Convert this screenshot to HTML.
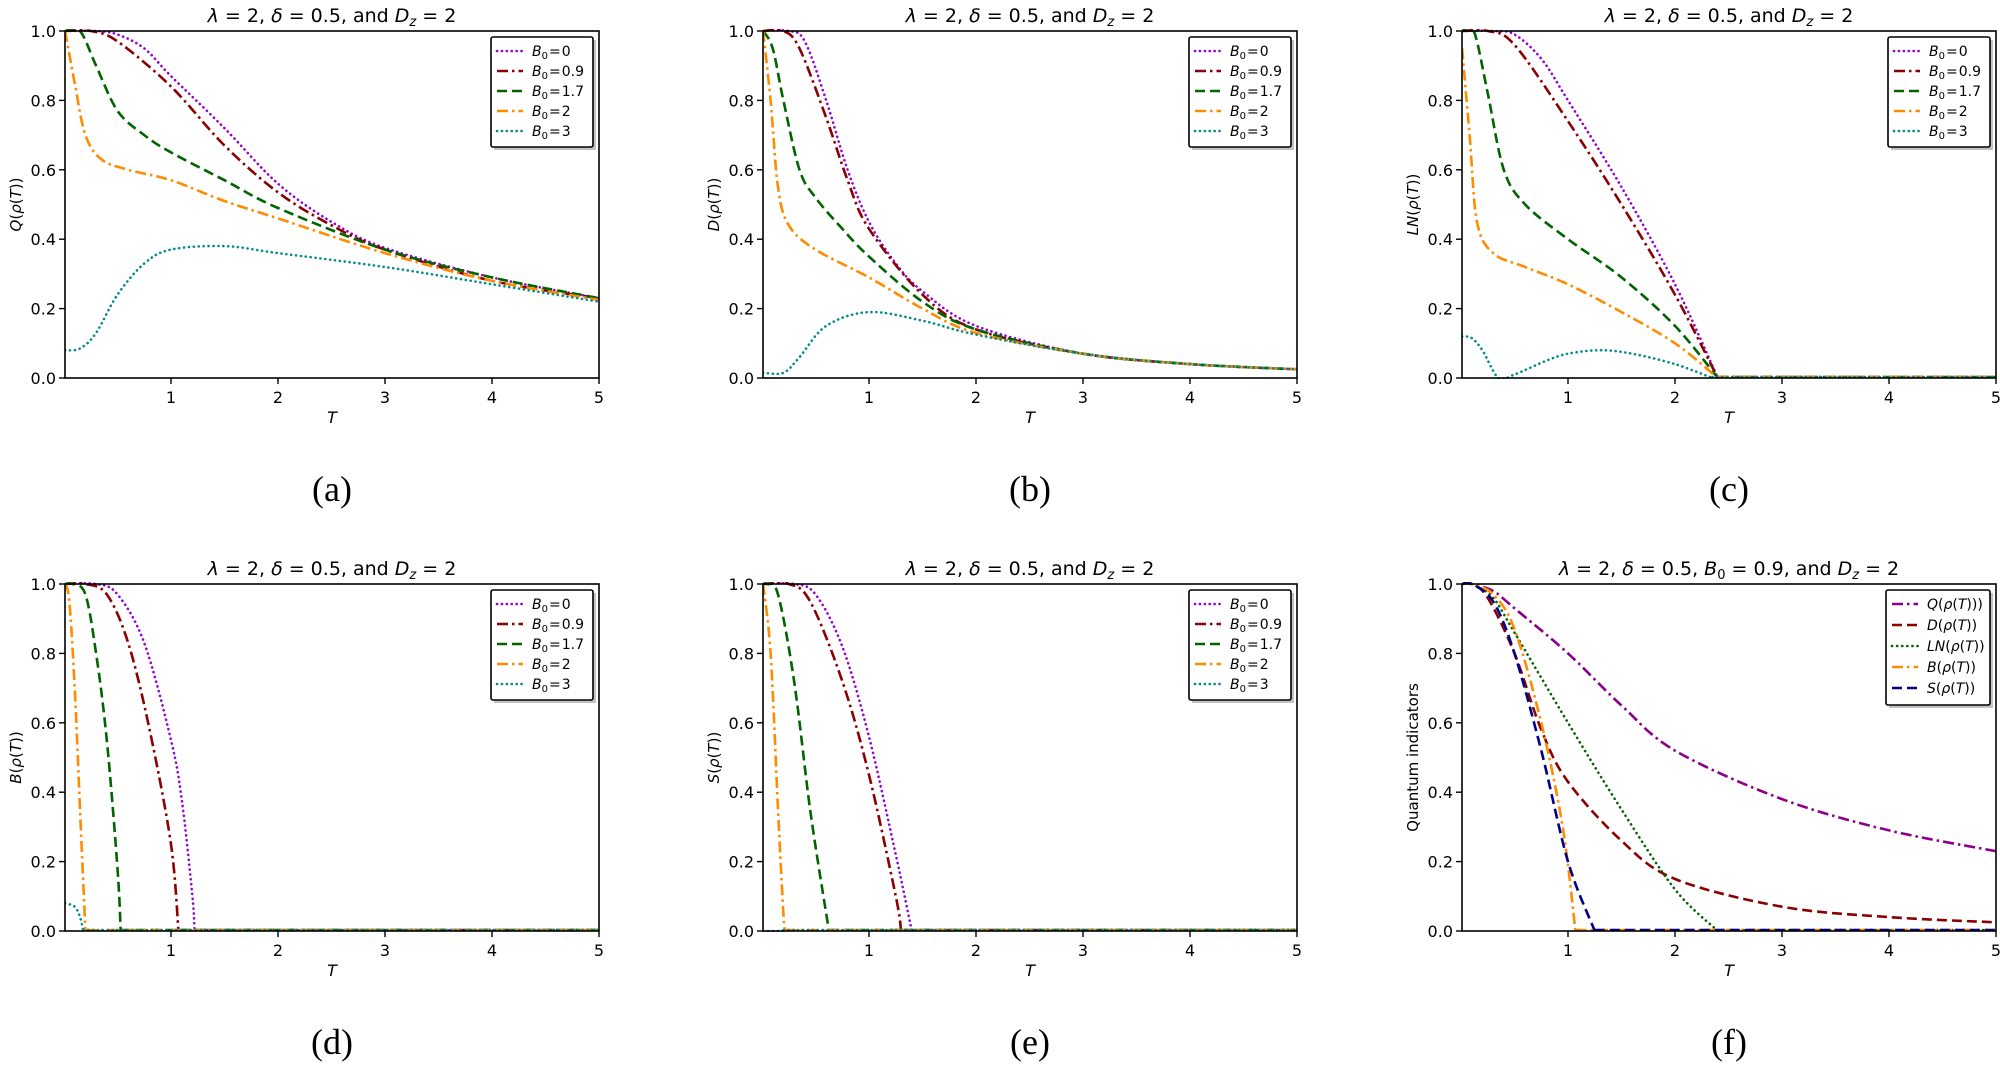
<!DOCTYPE html>
<html><head><meta charset="utf-8"><style>
html,body{margin:0;padding:0;background:#fff;width:2000px;height:1065px;overflow:hidden}
svg text{font-family:"DejaVu Sans","Liberation Sans",sans-serif;fill:#000}
</style></head><body>
<svg id="s" width="2000" height="1065" xmlns="http://www.w3.org/2000/svg"></svg>
<script>
const S=document.getElementById('s');let h='';
const W=534,H=347;
const cols=[65,763,1462],rows=[31,584];
const sty={
 dot:'stroke-dasharray="0.1,4.8" stroke-linecap="round"',
 dashdot:'stroke-dasharray="11,4,2.5,4"',
 dash:'stroke-dasharray="10,5"',
 dot2:'stroke-dasharray="0.1,5" stroke-linecap="round"'
};
function path(pts,X,Y){
 if(pts.length<2)return'';
 let P=pts.map(p=>[X(p[0]),Y(p[1])]);
 let d='M'+P[0][0].toFixed(1)+','+P[0][1].toFixed(1);
 for(let i=0;i<P.length-1;i++){
  const p0=P[Math.max(0,i-1)],p1=P[i],p2=P[i+1],p3=P[Math.min(P.length-1,i+2)];
  const c1=[p1[0]+(p2[0]-p0[0])/6,p1[1]+(p2[1]-p0[1])/6];
  const c2=[p2[0]-(p3[0]-p1[0])/6,p2[1]-(p3[1]-p1[1])/6];
  d+=`C${c1[0].toFixed(1)},${c1[1].toFixed(1)} ${c2[0].toFixed(1)},${c2[1].toFixed(1)} ${p2[0].toFixed(1)},${p2[1].toFixed(1)}`;
 }
 return d;
}
const C={p:'#9400d3',r:'#8b0000',g:'#006400',o:'#ff8c00',t:'#008b8b',m:'#8b008b',n:'#00008b'};
function panel(ci,ri,title,ylab,series,legend,lx,lw){
 const L=cols[ci],T=rows[ri];
 const X=t=>L-1+ (W+1)/5*t, Y=v=>T+H*(1-v);
 const id='c'+ci+ri;
 h+=`<clipPath id="${id}"><rect x="${L}" y="${T-2}" width="${W}" height="${H+3}"/></clipPath>`;
 h+=`<text x="${L+W/2}" y="${T-9}" font-size="19" text-anchor="middle">${title}</text>`;
 for(const s of series){
  h+=`<path clip-path="url(#${id})" d="${path(s.p,X,Y)}" fill="none" stroke="${C[s.c]}" stroke-width="2.6" ${sty[s.s]}/>`;
  if(s.z){const x0=s.p[s.p.length-1][0];h+=`<path d="M${X(x0)},${Y(0)-1}L${L+W},${Y(0)-1}" stroke="${C[s.c]}" stroke-width="2.6" ${sty[s.s]} fill="none"/>`;}
 }
 h+=`<rect x="${L}" y="${T}" width="${W}" height="${H}" fill="none" stroke="#000" stroke-width="1.6"/>`;
 for(let i=0;i<=5;i++){const v=i/5,y=Y(v);h+=`<line x1="${L-6}" x2="${L}" y1="${y}" y2="${y}" stroke="#000" stroke-width="1.4"/><text x="${L-9}" y="${y+6}" font-size="16" text-anchor="end">${v.toFixed(1)}</text>`;}
 for(let i=1;i<=5;i++){const x=X(i);h+=`<line x1="${x}" x2="${x}" y1="${T+H}" y2="${T+H+6}" stroke="#000" stroke-width="1.4"/><text x="${x}" y="${T+H+25}" font-size="16" text-anchor="middle">${i}</text>`;}
 h+=`<text x="${L+W/2}" y="${T+H+45}" font-size="16" font-style="italic" text-anchor="middle">T</text>`;
 h+=`<text transform="translate(${L-44},${T+H/2}) rotate(-90)" font-size="15" text-anchor="middle">${ylab}</text>`;
 h+=`<text x="${L+W/2}" y="${T+470}" font-size="36" text-anchor="middle" style="font-family:'Liberation Serif',serif">(${'abcdef'[ri*3+ci]})</text>`;
 const lx0=L+W-lw-6, ly0=T+6, rh=ri==1&&ci==2?21:20;
 const lh=rh*5+10;
 h+=`<rect x="${lx0+3}" y="${ly0+3}" width="${lw}" height="${lh}" fill="#999" opacity="0.6"/>`;
 h+=`<rect x="${lx0}" y="${ly0}" width="${lw}" height="${lh}" fill="#fff" stroke="#000" stroke-width="1.6" rx="2"/>`;
 legend.forEach((g,i)=>{const y=ly0+14+i*rh;const s=series[i];
  h+=`<line x1="${lx0+6}" x2="${lx0+32}" y1="${y}" y2="${y}" stroke="${C[s.c]}" stroke-width="2.6" ${sty[s.s]}/>`;
  h+=`<text x="${lx0+lx}" y="${y+5}" font-size="14">${g}</text>`;});
}
const B0=['0','0.9','1.7','2','3'].map(v=>`<tspan font-style="italic">B</tspan><tspan font-size="10" dy="3">0</tspan><tspan dy="-3" dx="1">=</tspan><tspan dx="1">${v}</tspan>`);
const tit=`<tspan font-style="italic">λ</tspan> = 2, <tspan font-style="italic">δ</tspan> = 0.5, and <tspan font-style="italic">D</tspan><tspan font-size="13" dy="4" font-style="italic">z</tspan><tspan dy="-4"> = 2</tspan>`;
const yl=n=>`<tspan font-style="italic">${n}</tspan>(<tspan font-style="italic">ρ</tspan>(<tspan font-style="italic">T</tspan>))`;
panel(0,0,tit,yl('Q'),[
 {c:'p',s:'dot',p:[[0.01,1],[0.3,1],[0.5,0.99],[0.75,0.95],[1,0.87],[1.5,0.72],[2,0.56],[2.5,0.45],[3,0.375],[4,0.29],[5,0.23]]},
 {c:'r',s:'dashdot',p:[[0.01,1],[0.25,1],[0.5,0.97],[1,0.84],[1.5,0.67],[2,0.535],[2.5,0.44],[3,0.37],[4,0.28],[5,0.23]]},
 {c:'g',s:'dash',p:[[0.01,1],[0.15,1],[0.3,0.9],[0.5,0.77],[0.75,0.7],[1,0.65],[1.5,0.57],[2,0.49],[3,0.37],[4,0.29],[5,0.23]]},
 {c:'o',s:'dashdot',p:[[0.01,1],[0.1,0.85],[0.2,0.7],[0.35,0.63],[0.6,0.6],[1,0.57],[1.5,0.51],[2,0.46],[3,0.36],[4,0.28],[5,0.225]]},
 {c:'t',s:'dot',p:[[0.01,0.08],[0.15,0.085],[0.3,0.13],[0.5,0.24],[0.75,0.33],[1,0.37],[1.5,0.38],[2,0.36],[3,0.32],[4,0.27],[5,0.22]]}
],B0,41,102);
panel(1,0,tit,yl('D'),[
 {c:'p',s:'dot',p:[[0.01,1],[0.25,1],[0.4,0.97],[0.6,0.8],[0.8,0.6],[1,0.45],[1.25,0.33],[1.5,0.25],[2,0.15],[3,0.07],[4,0.04],[5,0.025]]},
 {c:'r',s:'dashdot',p:[[0.01,1],[0.2,1],[0.35,0.95],[0.6,0.75],[0.8,0.57],[1,0.43],[1.5,0.24],[2,0.14],[3,0.07],[4,0.04],[5,0.025]]},
 {c:'g',s:'dash',p:[[0.01,1],[0.1,0.95],[0.2,0.8],[0.35,0.6],[0.5,0.52],[0.75,0.43],[1,0.35],[1.5,0.22],[2,0.14],[3,0.07],[4,0.04],[5,0.025]]},
 {c:'o',s:'dashdot',p:[[0.01,1],[0.08,0.8],[0.15,0.55],[0.25,0.44],[0.5,0.37],[1,0.29],[1.5,0.2],[2,0.13],[3,0.07],[4,0.04],[5,0.025]]},
 {c:'t',s:'dot',p:[[0.01,0.015],[0.2,0.015],[0.35,0.06],[0.6,0.15],[1,0.19],[1.5,0.165],[2,0.125],[3,0.07],[4,0.04],[5,0.025]]}
],B0,41,102);
panel(2,0,tit,yl('LN'),[
 {c:'p',s:'dot',z:1,p:[[0.01,1],[0.3,1],[0.5,0.99],[0.75,0.92],[1,0.8],[1.5,0.55],[2,0.27],[2.4,0]]},
 {c:'r',s:'dashdot',z:1,p:[[0.01,1],[0.25,1],[0.5,0.96],[1,0.74],[1.5,0.5],[2,0.24],[2.4,0]]},
 {c:'g',s:'dash',z:1,p:[[0.01,1],[0.12,1],[0.25,0.82],[0.4,0.6],[0.6,0.5],[1,0.4],[1.5,0.29],[2,0.15],[2.4,0]]},
 {c:'o',s:'dashdot',z:1,p:[[0.01,0.95],[0.08,0.7],[0.15,0.45],[0.3,0.36],[0.6,0.32],[1,0.27],[1.5,0.19],[2,0.1],[2.4,0]]},
 {c:'t',s:'dot',z:1,p:[[0.01,0.12],[0.1,0.115],[0.2,0.08],[0.35,0.0],[0.5,0.01],[0.8,0.05],[1,0.07],[1.3,0.08],[1.6,0.07],[2,0.04],[2.35,0]]}
],B0,41,102);
panel(0,1,tit,yl('B'),[
 {c:'p',s:'dot',z:1,p:[[0.01,1],[0.3,1],[0.5,0.97],[0.75,0.83],[1,0.55],[1.1,0.38],[1.2,0.1],[1.22,0]]},
 {c:'r',s:'dashdot',z:1,p:[[0.01,1],[0.2,1],[0.4,0.97],[0.6,0.83],[0.8,0.58],[1,0.25],[1.07,0]]},
 {c:'g',s:'dash',z:1,p:[[0.01,1],[0.08,1],[0.2,0.97],[0.3,0.8],[0.4,0.55],[0.5,0.18],[0.53,0]]},
 {c:'o',s:'dashdot',z:1,p:[[0.01,1],[0.05,0.95],[0.1,0.7],[0.15,0.35],[0.2,0]]},
 {c:'t',s:'dot',z:1,p:[[0.01,0.08],[0.1,0.07],[0.15,0.04],[0.18,0]]}
],B0,41,102);
panel(1,1,tit,yl('S'),[
 {c:'p',s:'dot',z:1,p:[[0.01,1],[0.3,1],[0.5,0.97],[0.75,0.82],[1,0.56],[1.25,0.22],[1.4,0]]},
 {c:'r',s:'dashdot',z:1,p:[[0.01,1],[0.25,1],[0.45,0.95],[0.75,0.72],[1,0.45],[1.25,0.1],[1.3,0]]},
 {c:'g',s:'dash',z:1,p:[[0.01,1],[0.05,1],[0.15,0.97],[0.3,0.72],[0.45,0.35],[0.6,0.05],[0.63,0]]},
 {c:'o',s:'dashdot',z:1,p:[[0.01,1],[0.08,0.8],[0.15,0.35],[0.2,0.05],[0.22,0]]},
 {c:'t',s:'dot',z:1,p:[[0.01,0],[0.2,0]]}
],B0,41,102);
const titf=`<tspan font-style="italic">λ</tspan> = 2, <tspan font-style="italic">δ</tspan> = 0.5, <tspan font-style="italic">B</tspan><tspan font-size="13" dy="4">0</tspan><tspan dy="-4"> = 0.9, and </tspan><tspan font-style="italic">D</tspan><tspan font-size="13" dy="4" font-style="italic">z</tspan><tspan dy="-4"> = 2</tspan>`;
panel(2,1,titf,'Quantum indicators',[
 {c:'m',s:'dashdot',p:[[0.01,1],[0.1,1],[0.3,0.98],[0.5,0.93],[1,0.8],[1.5,0.65],[2,0.52],[3,0.38],[4,0.29],[5,0.23]]},
 {c:'r',s:'dash',p:[[0.01,1],[0.1,1],[0.25,0.96],[0.5,0.8],[0.75,0.58],[1,0.43],[1.5,0.26],[2,0.15],[3,0.07],[4,0.04],[5,0.025]]},
 {c:'g',s:'dot2',z:1,p:[[0.01,1],[0.1,1],[0.3,0.96],[0.5,0.86],[1,0.6],[1.5,0.35],[2,0.12],[2.4,0]]},
 {c:'o',s:'dashdot',z:1,p:[[0.01,1],[0.1,1],[0.3,0.97],[0.5,0.87],[0.75,0.6],[0.95,0.3],[1.07,0]]},
 {c:'n',s:'dash',z:1,p:[[0.01,1],[0.1,1],[0.3,0.95],[0.5,0.8],[0.75,0.52],[1,0.2],[1.25,0]]}
],['Q','D','LN','B','S'].map(n=>yl(n)+(n=='Q'?')':'')),41,104);
S.innerHTML=h;
</script>
</body></html>
